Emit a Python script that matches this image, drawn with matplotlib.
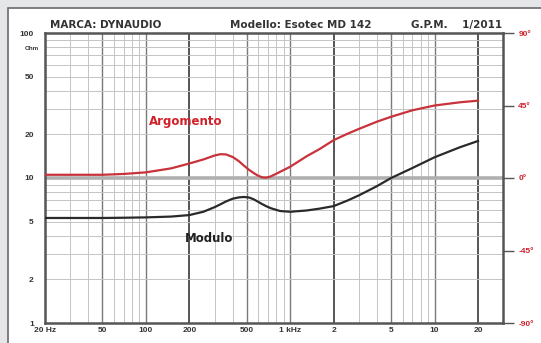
import matplotlib
matplotlib.use("Agg")
import matplotlib.pyplot as plt
from matplotlib.patches import Rectangle
from matplotlib.ticker import FixedLocator, NullFormatter

plt.rcParams["font.family"] = ["Liberation Sans", "DejaVu Sans"]

# measured curves (frequency in Hz)
freq = [20, 30, 50, 70, 100, 150, 200, 250, 300, 330, 360, 400, 440, 480,
        520, 560, 600, 640, 680, 730, 850, 1000, 1300, 1600, 2000, 2500,
        3000, 4000, 5000, 7000, 10000, 15000, 20000]
modulo = [5.3, 5.3, 5.3, 5.32, 5.35, 5.42, 5.55, 5.85, 6.3, 6.6, 6.9, 7.2,
          7.35, 7.4, 7.33, 7.12, 6.85, 6.6, 6.4, 6.2, 5.92, 5.85, 5.97,
          6.15, 6.4, 7.0, 7.6, 8.8, 10.0, 11.7, 13.9, 16.3, 18.0]
argomento = [2, 2, 2, 2.5, 3.5, 6, 9, 11.5, 14, 14.8, 14.6, 13, 10.5, 7.5,
             5, 3, 1.4, 0.4, 0.2, 0.9, 3.8, 7, 13.5, 18, 23.5, 27.5,
             30.5, 35, 38, 42, 45, 47, 48]

x_ticks = [20, 50, 100, 200, 500, 1000, 2000, 5000, 10000, 20000]
x_labels = ["20 Hz", "50", "100", "200", "500", "1 kHz", "2", "5", "10", "20"]
y_ticks = [1, 2, 5, 10, 20, 50, 100]
phase_ticks = [-90, -45, 0, 45, 90]
phase_labels = ["-90°", "-45°", "0°", "45°", "90°"]

W, H = 541, 343
fig = plt.figure(figsize=(W / 100, H / 100), dpi=100)
fig.patch.set_facecolor("#e4e6e8")
panel = Rectangle((8 / W, -0.1), 1.1, 1.1 - 8 / H,
                  transform=fig.transFigure, facecolor="white",
                  edgecolor="#6a6a6a", linewidth=1.2, zorder=-5)
fig.patches.append(panel)

ax = fig.add_axes([45 / W, 1 - 323 / H, 458 / W, 290 / H])
ax.set_zorder(2)
ax.set_xscale("log")
ax.set_yscale("log")
ax.set_xlim(20, 29800)
ax.set_ylim(1, 100)
ax.set_facecolor("white")

# grid
minor_x = [m * 10 ** e for e in range(1, 5) for m in range(1, 10)]
minor_x = [v for v in minor_x if 20 < v < 29800]
for v in minor_x:
    ax.axvline(v, color="#c4c4c4", lw=0.7, zorder=1)
for v in [50, 100, 500, 1000, 5000, 10000]:
    ax.axvline(v, color="#7a7a7a", lw=1.0, zorder=1)
for v in [200, 2000, 20000]:
    ax.axvline(v, color="#555555", lw=1.4, zorder=1)
minor_y = [m * 10 ** e for e in range(0, 2) for m in range(1, 10)]
for v in minor_y[1:]:
    ax.axhline(v, color="#c4c4c4", lw=0.7, zorder=1)
ax.axhline(10, color="#b0b0b0", lw=2.6, zorder=1)

for s in ax.spines.values():
    s.set_color("#555555")
    s.set_linewidth(1.8)

ax.xaxis.set_major_locator(FixedLocator(x_ticks))
ax.xaxis.set_minor_formatter(NullFormatter())
ax.set_xticks(x_ticks, x_labels)
ax.set_yticks(y_ticks, [str(v) for v in y_ticks])
ax.yaxis.set_minor_formatter(NullFormatter())
ax.tick_params(axis="both", which="both", length=0, labelsize=6,
               colors="#333333")
ax.tick_params(axis="x", pad=3)
ax.tick_params(axis="y", pad=8)
for lab in ax.get_xticklabels() + ax.get_yticklabels():
    lab.set_fontweight("bold")

ax.plot(freq, modulo, color="#2a2a2a", lw=1.6, zorder=3)

ax2 = ax.twinx()
ax2.set_zorder(3)
ax2.set_ylim(-90, 90)
ax2.set_yticks(phase_ticks, phase_labels)
ax2.tick_params(axis="y", length=8, width=1.0, color="#555555",
                labelsize=6, labelcolor="#d0202a", pad=3)
for lab in ax2.get_yticklabels():
    lab.set_fontweight("bold")
for s in ax2.spines.values():
    s.set_visible(False)
ax2.plot(freq, argomento, color="#c8323a", lw=1.6, zorder=3)

fig.text(32 / W, 1 - 48 / H, "Ohm", fontsize=4.5, fontweight="bold",
         color="#333333", ha="center", va="center")
fig.text(186 / W, 1 - 122 / H, "Argomento", fontsize=8.5, fontweight="bold",
         color="#d0202a", ha="center", va="center", zorder=10,
         family="DejaVu Sans")
fig.text(209 / W, 1 - 238 / H, "Modulo", fontsize=8.5, fontweight="bold",
         color="#222222", ha="center", va="center", zorder=10,
         family="DejaVu Sans")

title_kw = dict(fontsize=7.5, fontweight="bold", color="#333333",
                va="center", family="DejaVu Sans")
fig.text(50 / W, 1 - 25 / H, "MARCA: DYNAUDIO", ha="left", **title_kw)
fig.text(301 / W, 1 - 25 / H, "Modello: Esotec MD 142", ha="center",
         **title_kw)
fig.text(502 / W, 1 - 25 / H, "G.P.M.    1/2011", ha="right", **title_kw)

fig.savefig("out.png", dpi=100, facecolor=fig.get_facecolor())
